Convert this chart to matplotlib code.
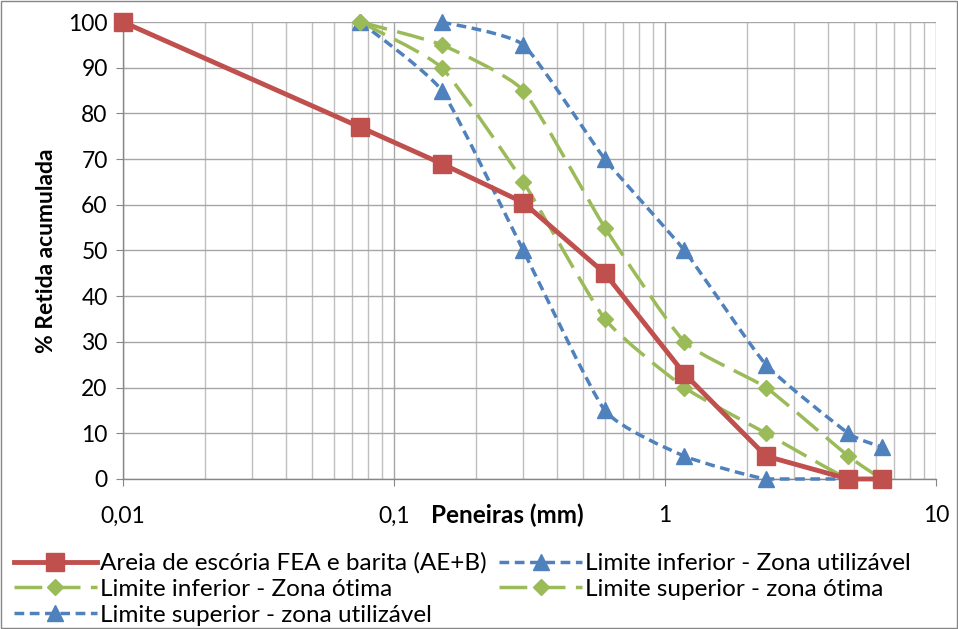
import matplotlib
matplotlib.use('Agg')
import matplotlib.pyplot as plt
import numpy as np
from matplotlib.path import Path
from matplotlib.patches import PathPatch
from matplotlib.lines import Line2D
from matplotlib.ticker import FixedLocator, LogLocator, NullFormatter

plt.rcParams['font.family'] = ['Lato', 'DejaVu Sans']

# Sieve openings (mm) and accumulated retained (%)
sieves_sample = [0.01, 0.075, 0.15, 0.3, 0.6, 1.18, 2.36, 4.75, 6.3]
sample = [100, 77, 69, 60.5, 45, 23, 5, 0, 0]

sieves_inf_util = [0.075, 0.15, 0.3, 0.6, 1.18, 2.36, 4.75]
inf_util = [100, 85, 50, 15, 5, 0, 0]

sieves_inf_otima = [0.075, 0.15, 0.3, 0.6, 1.18, 2.36, 4.75, 6.3]
inf_otima = [100, 90, 65, 35, 20, 10, 0, 0]

sieves_sup_otima = [0.075, 0.15, 0.3, 0.6, 1.18, 2.36, 4.75, 6.3]
sup_otima = [100, 95, 85, 55, 30, 20, 5, 0]

sieves_sup_util = [0.15, 0.3, 0.6, 1.18, 2.36, 4.75, 6.3]
sup_util = [100, 95, 70, 50, 25, 10, 7]

labels = ['Areia de escória FEA e barita (AE+B)',
          'Limite inferior - Zona utilizável',
          'Limite inferior - Zona ótima',
          'Limite superior - zona ótima',
          'Limite superior - zona utilizável']

red = '#C0504D'
blue = '#4F81BD'
green = '#9BBB59'


def smooth_path(xs, ys, k=12):
    # mildly smoothed line: bezier in (log x, y) space
    lx = np.log10(xs)
    y = np.array(ys, dtype=float)
    n = len(lx)
    verts = [(xs[0], ys[0])]
    codes = [Path.MOVETO]
    for i in range(n - 1):
        i0 = max(i - 1, 0)
        i3 = min(i + 2, n - 1)
        c1x = lx[i] + (lx[i + 1] - lx[i0]) / k
        c1y = y[i] + (y[i + 1] - y[i0]) / k
        c2x = lx[i + 1] - (lx[i3] - lx[i]) / k
        c2y = y[i + 1] - (y[i3] - y[i]) / k
        if y[i] == y[i + 1]:
            c1y = c2y = y[i]
        verts += [(10 ** c1x, c1y), (10 ** c2x, c2y), (xs[i + 1], ys[i + 1])]
        codes += [Path.CURVE4] * 3
    return Path(verts, codes)


fig = plt.figure(figsize=(9.58, 6.29), dpi=100)
ax = fig.add_axes([0.1284, 0.2385, 0.977 - 0.1284, 0.965 - 0.2385])

ax.set_xscale('log')
ax.set_xlim(0.01, 10)
ax.set_ylim(0, 100)

# grid
ax.xaxis.set_minor_locator(LogLocator(base=10, subs=np.arange(2, 10)))
ax.xaxis.set_minor_formatter(NullFormatter())
ax.xaxis.set_major_locator(FixedLocator([0.01, 0.1, 1, 10]))
ax.set_xticklabels(['0,01', '0,1', '1', '10'])
ax.set_yticks(np.arange(0, 101, 10))
ax.grid(True, which='major', color='#A6A6A6', lw=1.0)
ax.grid(True, which='minor', axis='x', color='#BFBFBF', lw=1.0)
ax.set_axisbelow(True)

for s in ['top', 'right']:
    ax.spines[s].set_visible(False)
for s in ['left', 'bottom']:
    ax.spines[s].set_color('#868686')
    ax.spines[s].set_linewidth(1.0)

ax.tick_params(axis='both', which='major', labelsize=16.5, length=5, color='#868686')
ax.tick_params(axis='x', which='major', pad=14)
ax.tick_params(axis='x', which='minor', length=0)
ax.tick_params(axis='y', pad=6)

styles = [
    (sieves_inf_util, inf_util, blue, (0, (2.8, 1.6)), '^', 11),
    (sieves_inf_otima, inf_otima, green, (0, (8, 3)), 'D', 8),
    (sieves_sup_otima, sup_otima, green, (0, (8, 3)), 'D', 8),
    (sieves_sup_util, sup_util, blue, (0, (2.8, 1.6)), '^', 11),
]
for xs, ys, c, ls, m, ms in styles:
    ax.add_patch(PathPatch(smooth_path(xs, ys), facecolor='none', edgecolor=c,
                           lw=2.5, linestyle=ls, clip_on=False, zorder=3))
    ax.plot(xs, ys, linestyle='none', marker=m, ms=ms, color=c, clip_on=False, zorder=4)

ax.plot(sieves_sample, sample, color=red, lw=3.5, marker='s', ms=13,
        clip_on=False, zorder=5)

ax.set_ylabel('% Retida acumulada', fontsize=16.5, fontweight='bold', labelpad=8)
fig.text(0.530, 0.181, 'Peneiras (mm)', fontsize=17.5, fontweight='bold',
         ha='center', va='center')

h_sample = Line2D([], [], color=red, lw=3.5, marker='s', ms=13)
h_inf_util = Line2D([], [], color=blue, lw=2.5, ls=(0, (2.8, 1.6)), marker='^', ms=11)
h_inf_otima = Line2D([], [], color=green, lw=2.5, ls=(0, (8, 3)), marker='D', ms=8)
h_sup_otima = Line2D([], [], color=green, lw=2.5, ls=(0, (8, 3)), marker='D', ms=8)
h_sup_util = Line2D([], [], color=blue, lw=2.5, ls=(0, (2.8, 1.6)), marker='^', ms=11)

fig.legend([h_sample, h_inf_otima, h_sup_util, h_inf_util, h_sup_otima],
           [labels[0], labels[2], labels[4], labels[1], labels[3]],
           ncol=2, loc='lower left', bbox_to_anchor=(-0.003, -0.022),
           frameon=False, fontsize=17.5, handlelength=3.4, handletextpad=0.15,
           columnspacing=0.5, labelspacing=0.2, borderaxespad=0.3)

# outer chart border
fig.patches.append(plt.Rectangle((0.001, 0.001), 0.998, 0.998, transform=fig.transFigure,
                                 fill=False, edgecolor='#868686', lw=1.0))

fig.savefig('out.png', dpi=100)
